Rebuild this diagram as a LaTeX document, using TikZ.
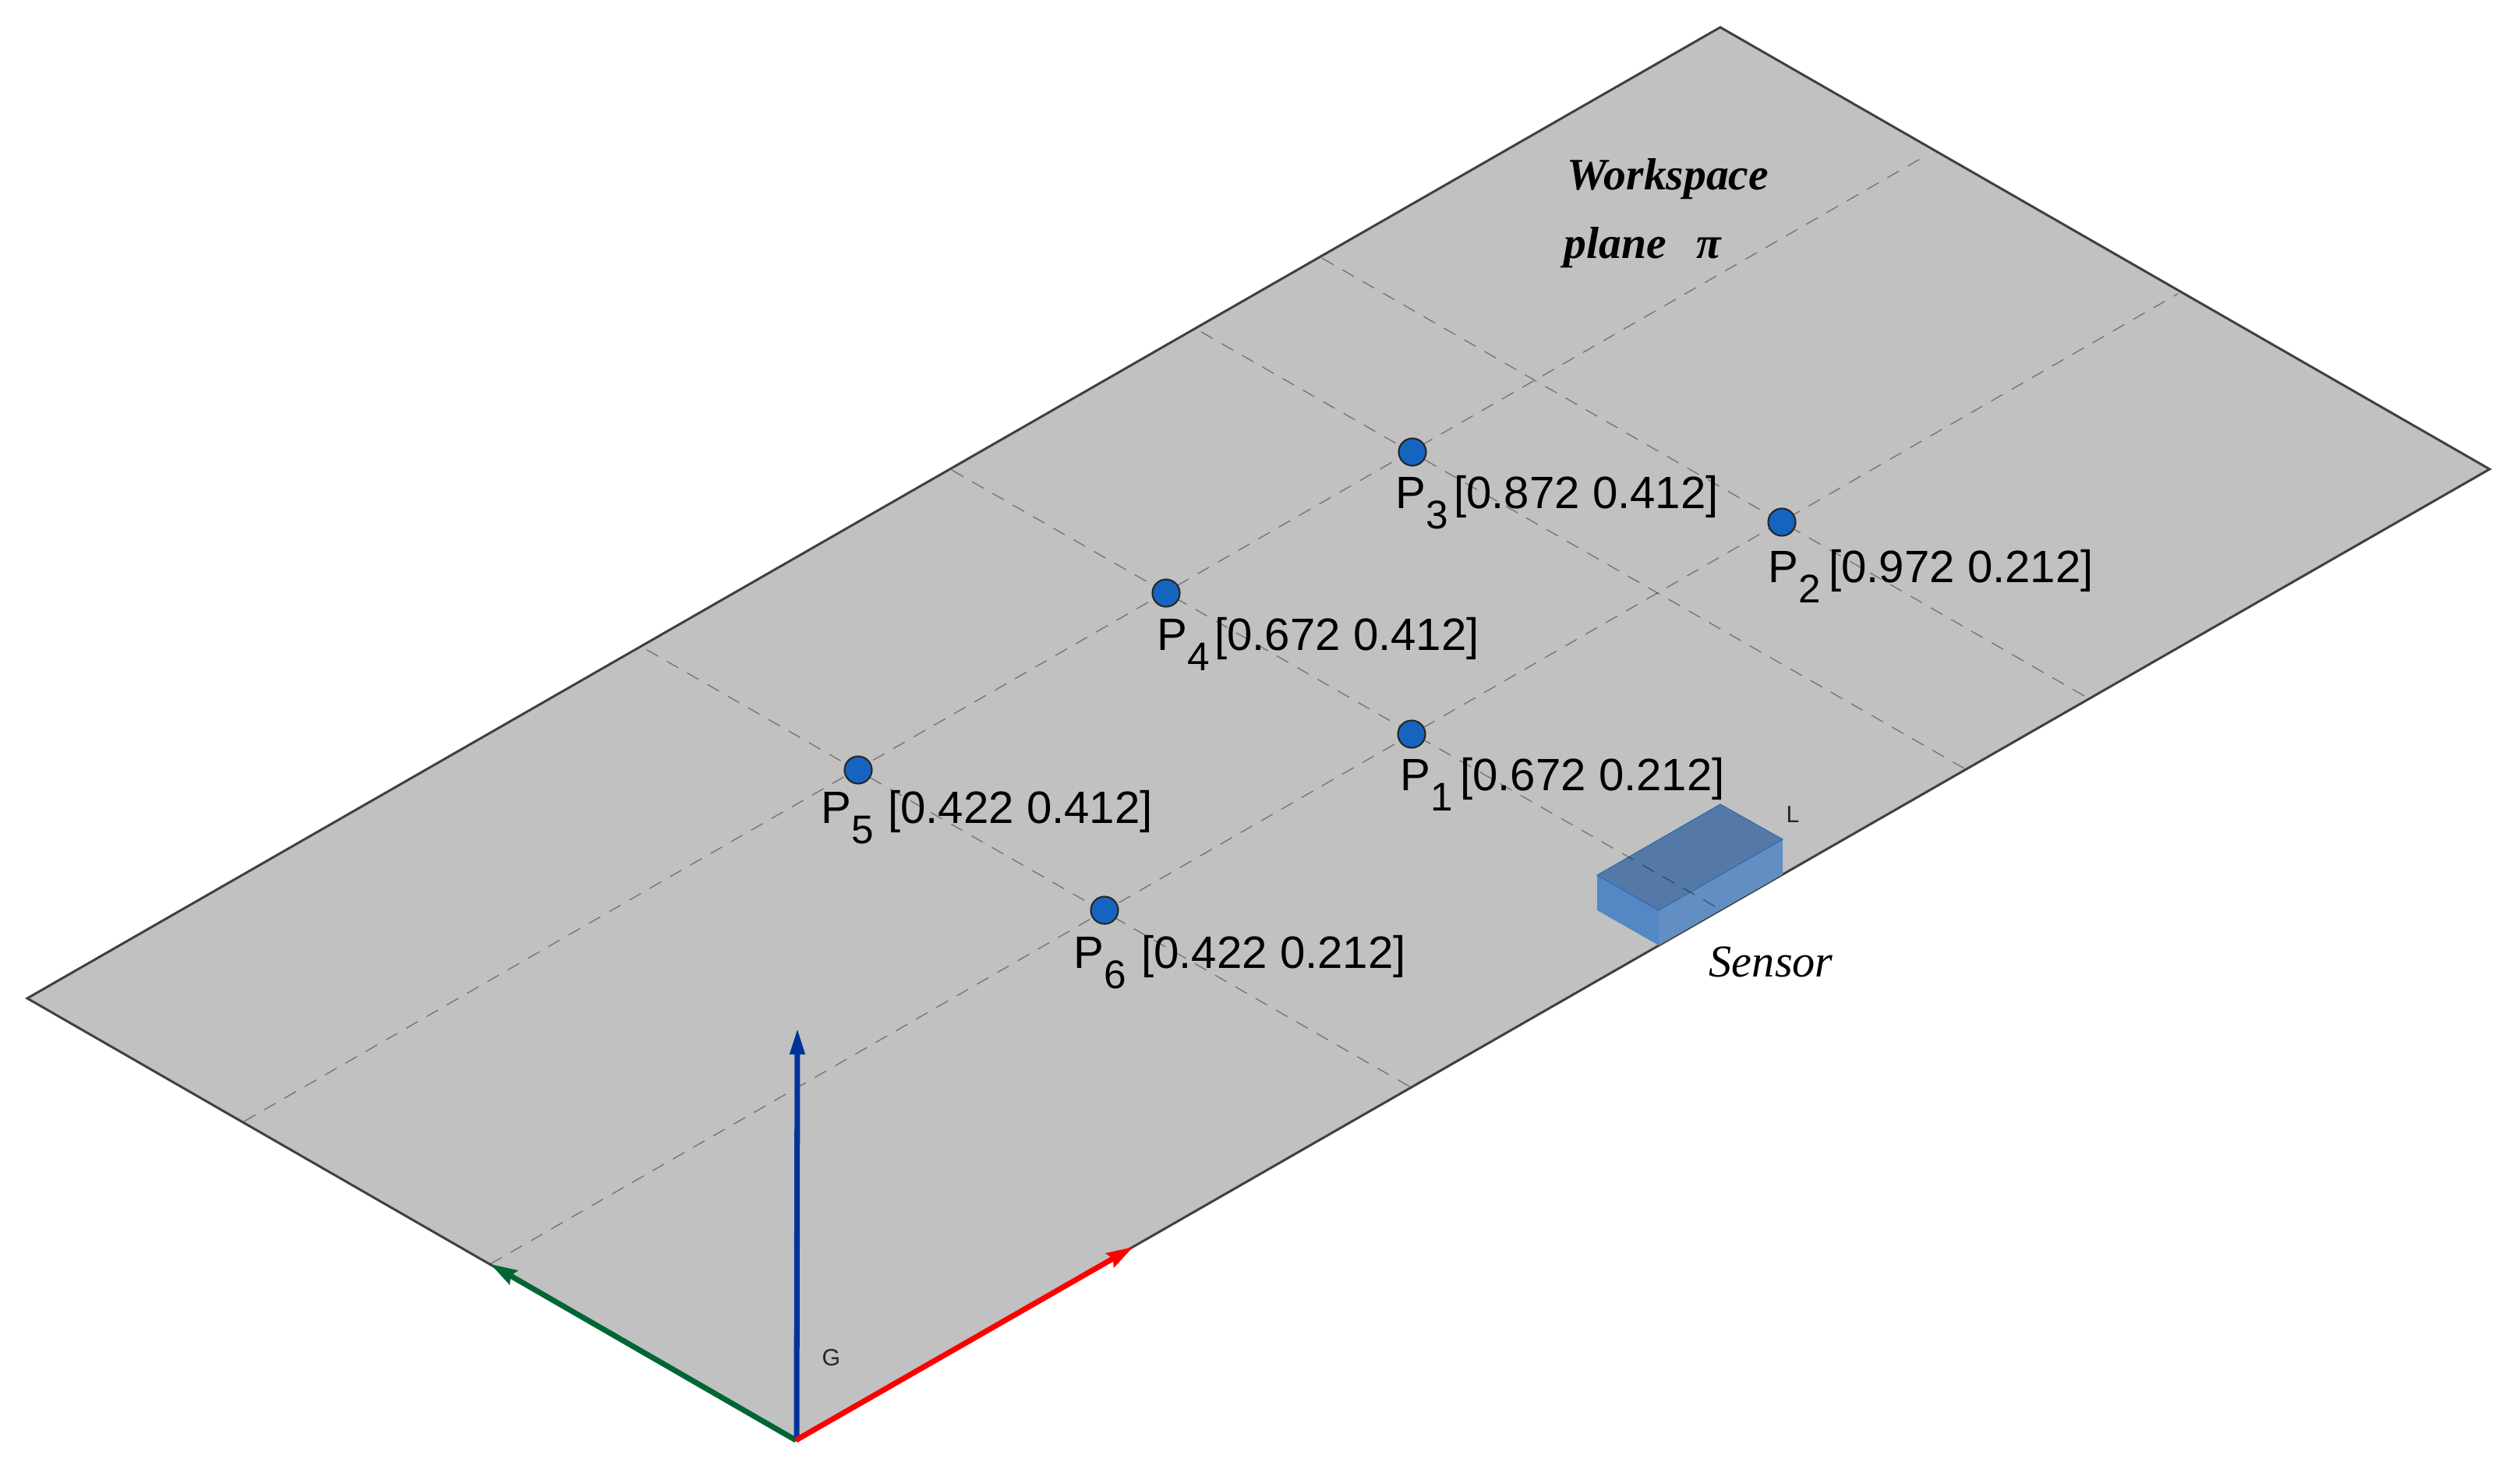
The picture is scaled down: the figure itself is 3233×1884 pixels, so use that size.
\documentclass[tikz,border=0pt]{standalone}
\usepackage{fontspec}
\setmainfont{Liberation Sans}
\newfontfamily\tnr{Liberation Serif}
\usetikzlibrary{arrows.meta}
\definecolor{planegray}{HTML}{C1C1C1}
\definecolor{edgegray}{HTML}{404040}
\definecolor{dotblue}{HTML}{1565C0}
\definecolor{axblue}{HTML}{003399}
\definecolor{axgreen}{HTML}{006633}
\definecolor{axred}{HTML}{FF0000}
\definecolor{topface}{HTML}{5579A6}
\definecolor{leftface}{HTML}{5388C4}
\definecolor{rightface}{HTML}{628EC3}
\newcommand{\plab}[3]{\fontsize{16.55pt}{18pt}\selectfont P\raisebox{-0.26cm}{\fontsize{14.6pt}{15pt}\selectfont #1}\hspace{#2}#3}
\tikzset{
  plane/.style={fill=planegray,draw=edgegray,line width=0.85pt,line join=miter},
  gridline/.style={draw=black,draw opacity=0.38,line width=0.4pt,dash pattern=on 0.17cm off 0.13cm},
  dot/.style={circle,fill=dotblue,draw=black!85,line width=0.6pt,inner sep=0pt,minimum size=0.35cm},
  plabel/.style={anchor=base west,inner sep=0pt,text=black},
  axisline/.style={line width=2pt},
  tiplabel/.style={anchor=base west,inner sep=0pt,font=\fontsize{8.6pt}{9pt}\selectfont,text=black!85},
  serif/.style={anchor=base west,inner sep=0pt,text=black,font=\tnr\fontsize{16.6pt}{18pt}\selectfont\itshape},
  serifb/.style={anchor=base west,inner sep=0pt,text=black,font=\tnr\fontsize{16.4pt}{18pt}\selectfont\itshape\bfseries}
}
\begin{document}
\begin{tikzpicture}[x=0.01cm,y=-0.01cm]
\useasboundingbox (0,0) rectangle (3233,1884);
\coordinate (B) at (1021,1848);
\coordinate (R) at (3194,602);
\coordinate (T) at (2207,35);
\coordinate (Lf) at (35,1281);
\filldraw[plane] (B) -- (R) -- (T) -- (Lf) -- cycle;
% sensor
\coordinate (s1) at (2207,1032);
\coordinate (s2) at (2287,1077);
\coordinate (s3) at (2128,1168);
\coordinate (s4) at (2049,1123);
\coordinate (s5) at (2128,1213);
\coordinate (s6) at (2049,1168);
\coordinate (s7) at (2287,1122);
\fill[leftface] (s4) -- (s3) -- (s5) -- (s6) -- cycle;
\fill[rightface] (s3) -- (s2) -- (s7) -- (s5) -- cycle;
\filldraw[fill=topface,draw=dotblue!70!topface,line width=0.3pt] (s1) -- (s2) -- (s3) -- (s4) -- cycle;
% grid
\coordinate (a1) at (2674,893); \coordinate (a2) at (1694,330);
\coordinate (b1) at (2520,986); \coordinate (b2) at (1536,423);
\coordinate (c1) at (2200,1163); \coordinate (c2) at (1219,602);
\coordinate (d1) at (1808,1394); \coordinate (d2) at (825,831);
\coordinate (e1) at (313,1439); \coordinate (e2) at (2472,199);
\coordinate (f1) at (629,1622); \coordinate (f2) at (2794,377);
\foreach \u/\v in {a1/a2,b1/b2,c1/c2,d1/d2,e1/e2,f1/f2}
  \draw[gridline] (\u) -- (\v);
% axes
\coordinate (gtip) at (629,1622);
\coordinate (btip) at (1023,1319);
\coordinate (rtip) at (1454,1600);
\coordinate (O) at (1022,1846);
\draw[axisline,axgreen,-{Stealth[length=0.34cm,width=0.2cm,inset=0.04cm]}] (B) -- (gtip);
\draw[axisline,axblue,-{Triangle[length=0.34cm,width=0.18cm]}] (O) -- (btip);
\draw[axisline,axred,-{Stealth[length=0.34cm,width=0.2cm,inset=0.04cm]}] (B) -- (rtip);
\node[tiplabel] (gl) at (1054,1752) {G};
\node[tiplabel] (ll) at (2291,1055) {L};
% points
\node[dot] (p1) at (1811,942) {};
\node[dot] (p2) at (2286,670) {};
\node[dot] (p3) at (1812,580) {};
\node[dot] (p4) at (1496,761) {};
\node[dot] (p5) at (1101,988) {};
\node[dot] (p6) at (1417,1168) {};
\node[plabel] (l1) at (1796,1014) {\plab{1}{0.09cm}{[0.672 0.212]}};
\node[plabel] (l2) at (2268,747) {\plab{2}{0.10cm}{[0.972 0.212]}};
\node[plabel] (l3) at (1790,652) {\plab{3}{0.07cm}{[0.872 0.412]}};
\node[plabel] (l4) at (1484,834) {\plab{4}{0.06cm}{[0.672 0.412]}};
\node[plabel] (l5) at (1053,1056) {\plab{5}{0.18cm}{[0.422 0.412]}};
\node[plabel] (l6) at (1377,1242) {\plab{6}{0.19cm}{[0.422 0.212]}};
% titles
\node[serifb] (w1) at (2010,243) {Workspace};
\node[serifb] (w2) at (2006,331) {plane\ \ \,π};
\node[serif] (sn) at (2192,1253) {Sensor};
\end{tikzpicture}
\end{document}
